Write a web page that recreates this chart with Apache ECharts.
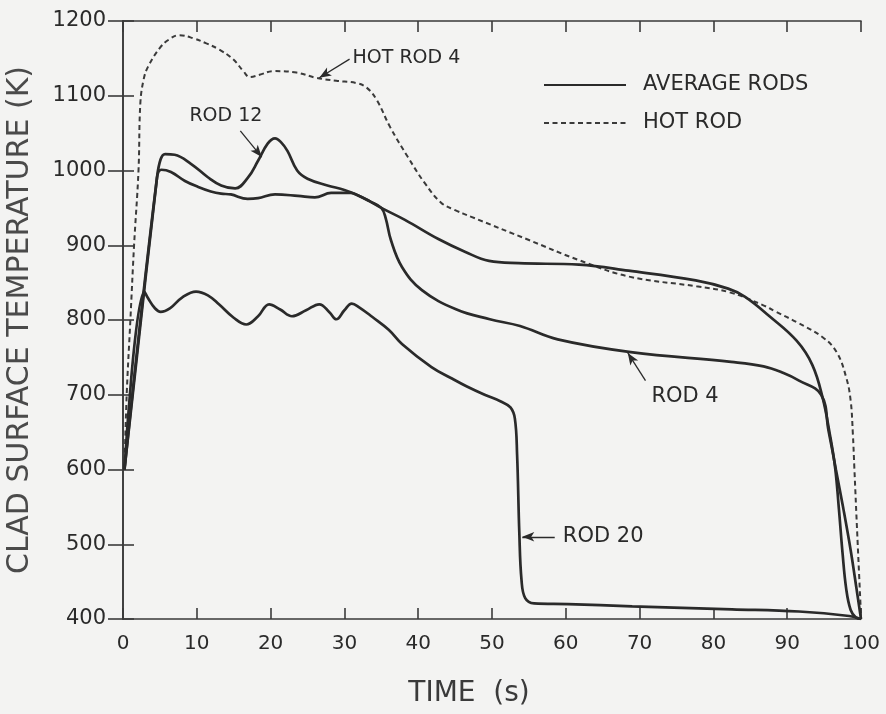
<!DOCTYPE html>
<html>
<head>
<meta charset="utf-8">
<script src="https://cdn.jsdelivr.net/npm/echarts@6/dist/echarts.min.js"></script>
<style>
  html, body { margin: 0; padding: 0; background: #f3f3f2; }
  #chart { width: 886px; height: 714px; }
</style>
</head>
<body>
<div id="chart"></div>
<script>
// Clad surface temperature histories: [time (s), temperature (K)]
const hotRod = [
  [0.2, 600], [0.5, 700], [1.0, 800], [1.5, 900], [2.1, 1000], [2.35, 1090], [2.8, 1122],
  [3.4, 1139], [5, 1164], [6.2, 1175], [7.6, 1181], [9.5, 1177], [11.3, 1170], [13, 1162],
  [14.9, 1149], [16.3, 1133], [17.2, 1125], [18.5, 1128], [20.4, 1133], [23.5, 1131],
  [26.2, 1124], [28.9, 1120], [31.6, 1117], [33, 1111], [34.4, 1094], [36.2, 1058],
  [38.6, 1018], [40.9, 983], [43.1, 957], [45, 947], [47.2, 938], [55, 907], [61.8, 880],
  [68.6, 858], [77.7, 845], [82.2, 837], [86.7, 820], [88.5, 811], [91.3, 797], [94.8, 777],
  [96.7, 757], [98, 723], [98.6, 692], [98.9, 647], [99.1, 602], [99.5, 512], [100, 405]
];

const rod12 = [
  [0.2, 600], [4.6, 990], [5.1, 1015], [5.7, 1022], [7, 1021], [9.2, 1009], [11.5, 991],
  [13.3, 980], [15.2, 976], [16.9, 990], [18.3, 1013], [19.6, 1036], [20.6, 1043],
  [21.4, 1038], [22.3, 1026], [23.6, 1000], [25, 989], [27.7, 980], [30, 974], [31.8, 967],
  [33.4, 959], [35, 950], [38.2, 934], [42.8, 908], [46.4, 891], [49.6, 879], [53.6, 876],
  [61.8, 874], [68.5, 866], [77.6, 853], [82, 842], [84.3, 831], [87.6, 805], [91.3, 772],
  [93.4, 740], [94.8, 696], [95.8, 646], [96.5, 602], [97.0, 548], [97.5, 488], [98.0, 440],
  [98.6, 412], [99.3, 402], [100, 400]
];

const rod4 = [
  [0.2, 600], [4.6, 990], [5.2, 1001], [6.5, 998], [8.4, 986], [10.2, 978], [11.9, 972],
  [13.3, 969], [14.6, 968], [16.9, 962], [18.3, 963], [20.6, 968], [23.7, 966], [26, 964],
  [28.2, 970], [30.9, 970], [31.8, 967], [33.4, 959], [35, 950], [35.6, 936], [36.3, 907],
  [37.8, 871], [40.5, 840], [45.2, 814], [49.7, 801], [53.8, 792], [58.9, 774], [68.8, 757],
  [82.4, 744], [86.8, 738], [89.5, 729], [91.6, 719], [94.6, 700], [95.6, 652], [96.6, 600],
  [97.6, 548], [98.6, 492], [99.4, 440], [100, 400]
];

const rod20 = [
  [0.2, 600], [2.9, 838], [3.4, 829], [4.3, 816], [5.1, 811], [6.4, 816], [8, 830],
  [9.9, 838], [11.5, 833], [13, 821], [15, 803], [16.7, 794], [18.3, 805], [19.8, 821],
  [21.3, 814], [22.9, 805], [24.8, 813], [26.6, 821], [28, 810], [28.9, 801], [30, 813],
  [31, 822], [32, 817], [33.8, 804], [36, 787], [37.8, 768], [41.8, 737], [44.5, 722],
  [46.6, 711], [49, 700], [51.2, 691], [52.5, 683], [53.1, 668], [53.4, 620], [53.7, 516],
  [54.0, 452], [54.5, 428], [55.7, 421], [60.3, 420], [69, 417], [82.5, 413], [91.6, 410],
  [98.4, 404], [100, 400]
];

// Axis ranges
const timeAxis = { min: 0, max: 100, step: 10 };
const tempAxis = { min: 400, max: 1200, step: 100 };

// Callouts: text anchor and arrow (from -> to), in data units
const callouts = [
  { text: 'HOT ROD 4', at: [31.1, 1150], from: [30.7, 1149], to: [26.6, 1124], size: 19 },
  { text: 'ROD 12',    at: [9.0, 1073],  from: [15.9, 1053], to: [18.8, 1018], size: 19 },
  { text: 'ROD 4',     at: [71.6, 697],  from: [70.8, 719],  to: [68.4, 756],  size: 21 },
  { text: 'ROD 20',    at: [59.6, 510],  from: [58.5, 510],  to: [54.1, 510],  size: 21 }
];

const FONT = 'DejaVu Sans';
const INK = '#2a2a2a';

const chart = echarts.init(document.getElementById('chart'), null, { renderer: 'canvas' });

const frameAxis = (extra) => Object.assign({
  type: 'value',
  axisLine: { show: true, lineStyle: { color: '#3a3a3a', width: 1.6 } },
  axisTick: { show: true, inside: true, length: 11, lineStyle: { color: '#3a3a3a', width: 1.6 } },
  splitLine: { show: false }
}, extra);

const avgLine = { color: INK, width: 2.7 };
const curveSmooth = 0.4;

chart.setOption({
  animation: false,
  backgroundColor: '#f3f3f2',
  grid: { left: 123, right: 25, top: 21, bottom: 95, outerBoundsMode: 'none' },
  legend: {
    left: 538, top: 68, orient: 'vertical',
    itemWidth: 82, itemHeight: 14, itemGap: 14,
    data: ['AVERAGE RODS', 'HOT ROD'],
    selectedMode: false,
    itemStyle: { opacity: 0 },
    textStyle: { fontFamily: FONT, fontSize: 21, color: INK, lineHeight: 24, padding: [0, 0, 0, 12] }
  },
  xAxis: [
    frameAxis({
      min: timeAxis.min, max: timeAxis.max, interval: timeAxis.step,
      name: 'TIME  (s)', nameLocation: 'middle', nameGap: 61,
      nameTextStyle: { fontFamily: FONT, fontSize: 28, color: '#3a3a3a', padding: [0, 46, 0, 0] },
      axisLabel: { fontFamily: FONT, fontSize: 20, color: INK, margin: 15 }
    }),
    frameAxis({
      position: 'top', min: timeAxis.min, max: timeAxis.max, interval: timeAxis.step,
      axisLabel: { show: false }
    })
  ],
  yAxis: [
    frameAxis({
      min: tempAxis.min, max: tempAxis.max, interval: tempAxis.step,
      name: 'CLAD SURFACE TEMPERATURE (K)', nameLocation: 'middle', nameGap: 88,
      nameTextStyle: { fontFamily: FONT, fontSize: 30, color: '#4a4a4a' },
      axisLabel: { fontFamily: FONT, fontSize: 21, color: INK, margin: 17, formatter: v => String(v) }
    }),
    frameAxis({
      position: 'right', min: tempAxis.min, max: tempAxis.max, interval: tempAxis.step,
      axisLabel: { show: false },
      axisTick: { show: true, inside: true, length: 15, lineStyle: { color: '#3a3a3a', width: 1.6 } }
    })
  ],
  series: [
    {
      name: 'HOT ROD', type: 'line', data: hotRod, symbol: 'none', smooth: curveSmooth,
      itemStyle: { color: '#3a3a3a' },
      lineStyle: { color: '#3a3a3a', width: 2, type: [5, 3.5] }
    },
    {
      name: 'AVERAGE RODS', type: 'line', data: rod12, symbol: 'none', smooth: curveSmooth,
      itemStyle: { color: INK }, lineStyle: avgLine
    },
    {
      name: 'AVERAGE RODS', type: 'line', data: rod4, symbol: 'none', smooth: curveSmooth,
      itemStyle: { color: INK }, lineStyle: avgLine
    },
    {
      name: 'AVERAGE RODS', type: 'line', data: rod20, symbol: 'none', smooth: curveSmooth,
      itemStyle: { color: INK }, lineStyle: avgLine,
      markLine: {
        silent: true,
        symbol: ['none', 'arrow'],
        symbolSize: [7, 12],
        label: { show: false },
        lineStyle: { type: 'solid', color: INK, width: 1.3 },
        emphasis: { disabled: true },
        data: callouts.map(c => [{ coord: c.from }, { coord: c.to }])
      },
      markPoint: {
        silent: true,
        symbol: 'circle',
        symbolSize: 0,
        data: callouts.map(c => ({
          name: c.text,
          coord: c.at,
          label: {
            show: true, position: 'right', distance: 0,
            formatter: c.text,
            fontFamily: FONT, fontSize: c.size, color: INK
          }
        }))
      }
    }
  ]
});
</script>
</body>
</html>
